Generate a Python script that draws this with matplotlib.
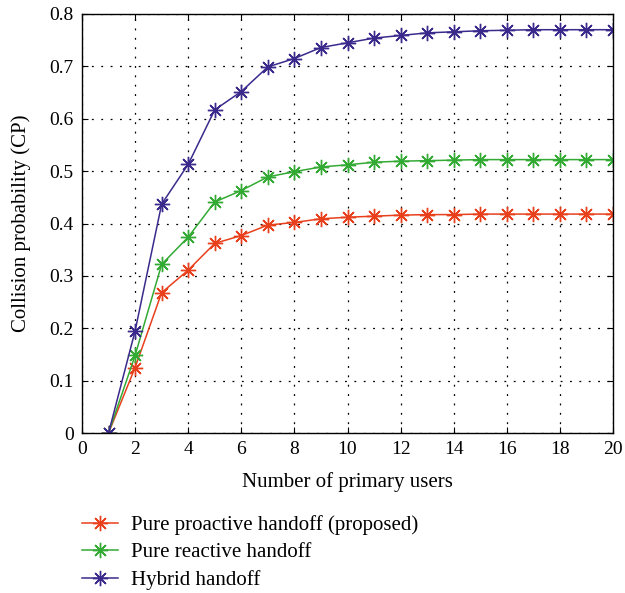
import numpy as np
import matplotlib.pyplot as plt

plt.rcParams['font.family'] = ['Liberation Serif', 'DejaVu Serif']

users = np.arange(1, 21)
proactive = [0, 0.125, 0.268, 0.311, 0.362, 0.377, 0.397, 0.402, 0.409, 0.412,
             0.414, 0.416, 0.417, 0.417, 0.418, 0.418, 0.418, 0.418, 0.418, 0.418]
reactive = [0, 0.148, 0.322, 0.374, 0.441, 0.463, 0.489, 0.499, 0.508, 0.512,
            0.517, 0.519, 0.520, 0.521, 0.522, 0.522, 0.522, 0.522, 0.522, 0.522]
hybrid = [0, 0.195, 0.437, 0.513, 0.617, 0.652, 0.699, 0.715, 0.736, 0.745,
          0.754, 0.759, 0.764, 0.766, 0.768, 0.769, 0.770, 0.770, 0.770, 0.770]
labels = ['Pure proactive handoff (proposed)', 'Pure reactive handoff', 'Hybrid handoff']
colors = ['#e8401c', '#33aa33', '#3b2a8c']

fig = plt.figure(figsize=(6.25, 5.93), dpi=100)
ax = fig.add_axes([0.1312, 0.2698, 0.8496, 0.7066])

for ys, lab, c in zip([proactive, reactive, hybrid], labels, colors):
    ax.plot(users, ys, color=c, marker=(8, 2, 0), markersize=11, markeredgewidth=1.0,
            linewidth=1.1, label=lab)

ax.set_xlim(0, 20)
ax.set_ylim(0, 0.8)
ax.set_xticks(np.arange(0, 21, 2))
ax.set_yticks(np.arange(0, 0.81, 0.1))
ax.set_yticklabels(['0', '0.1', '0.2', '0.3', '0.4', '0.5', '0.6', '0.7', '0.8'])
ax.grid(True, linestyle=(0, (1.5, 6)), color='black', linewidth=0.9)
ax.tick_params(direction='in', top=True, right=True, labelsize=14, length=4, pad=6)
for s in ax.spines.values():
    s.set_linewidth(1.0)
ax.set_xlabel('Number of primary users', fontsize=15, labelpad=10)
ax.set_ylabel('Collision probability (CP)', fontsize=15, labelpad=13)

fig.legend(loc='upper left', bbox_to_anchor=(0.101, 0.163), frameon=False,
           fontsize=15, handlelength=1.75, handletextpad=0.6, labelspacing=0.38)

fig.savefig('out.png', dpi=100)
